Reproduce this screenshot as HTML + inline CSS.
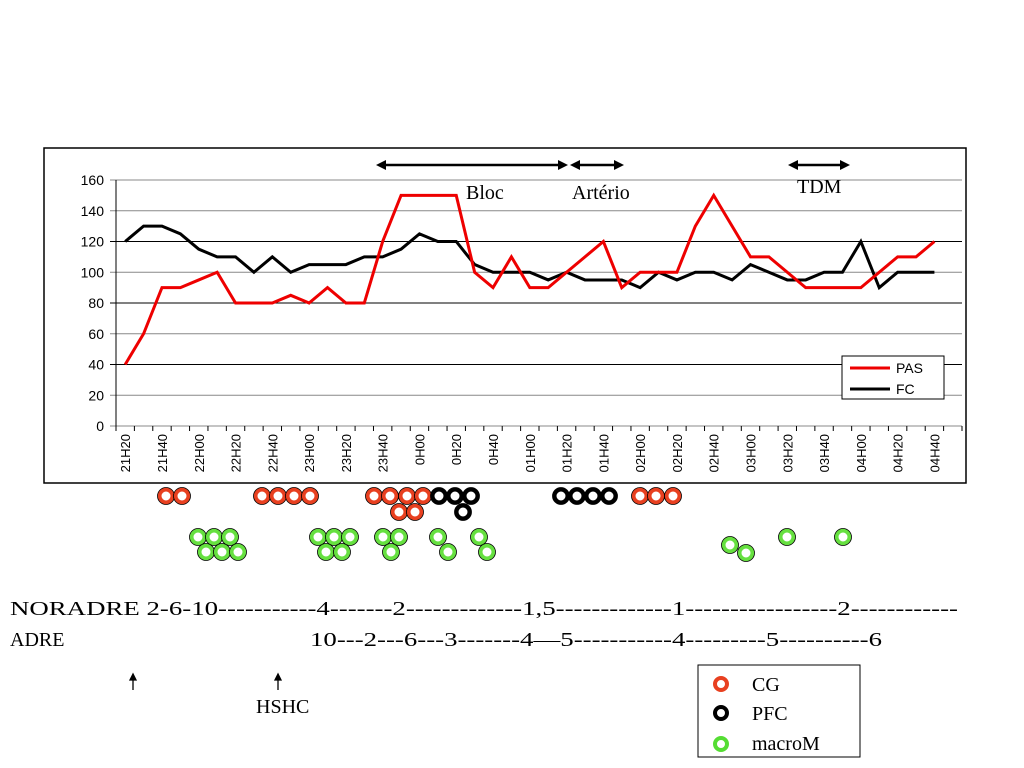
<!DOCTYPE html>
<html><head><meta charset="utf-8"><style>body{margin:0;background:#fff}svg{display:block}</style></head>
<body>
<svg id="c" width="1024" height="768" xmlns="http://www.w3.org/2000/svg" font-family="Liberation Sans, sans-serif">
<rect x="44" y="148" width="922" height="335" fill="#fff" stroke="#000" stroke-width="1.5"/>
<g id="grid"></g><g id="axes"></g><g id="lines"></g>
<g font-family="Liberation Serif, serif" font-size="20">
<line x1="382" y1="165" x2="562" y2="165" stroke="#000" stroke-width="2.5"/>
<polygon points="376,165 386,160 386,170" fill="#000"/><polygon points="568,165 558,160 558,170" fill="#000"/>
<line x1="576" y1="165" x2="618" y2="165" stroke="#000" stroke-width="2.5"/>
<polygon points="570,165 580,160 580,170" fill="#000"/><polygon points="624,165 614,160 614,170" fill="#000"/>
<line x1="794" y1="165" x2="844" y2="165" stroke="#000" stroke-width="2.5"/>
<polygon points="788,165 798,160 798,170" fill="#000"/><polygon points="850,165 840,160 840,170" fill="#000"/>
<text x="466" y="199">Bloc</text>
<text x="572" y="199">Artério</text>
<text x="797" y="193">TDM</text>
</g>
<g>
<rect x="842" y="356" width="102" height="43" fill="#fff" stroke="#000"/>
<line x1="850" y1="368" x2="890" y2="368" stroke="#e00" stroke-width="3"/>
<line x1="850" y1="389" x2="890" y2="389" stroke="#000" stroke-width="3"/>
<text x="896" y="373" font-size="14">PAS</text><text x="896" y="394" font-size="14">FC</text>
</g>
<g id="dots"></g>
<g font-family="Liberation Serif, serif" font-size="20">
<text x="10" y="615" textLength="948" lengthAdjust="spacingAndGlyphs">NORADRE 2-6-10-----------4-------2-------------1,5-------------1-----------------2------------</text>
<text x="10" y="646">ADRE</text>
<text x="310" y="646" textLength="572" lengthAdjust="spacingAndGlyphs">10---2---6---3-------4—5-----------4---------5----------6</text>
<text x="256" y="713">HSHC</text>
</g>
<g stroke="#000" stroke-width="1.3">
<line x1="133" y1="678" x2="133" y2="690"/><polygon points="133,674 130,680 136,680" fill="#000"/>
<line x1="278" y1="678" x2="278" y2="690"/><polygon points="278,674 275,680 281,680" fill="#000"/>
</g>
<g font-family="Liberation Serif, serif" font-size="20">
<rect x="698" y="665" width="162" height="92" fill="#fff" stroke="#000"/>
<circle cx="721" cy="684" r="6" fill="none" stroke="#e84020" stroke-width="4"/>
<circle cx="721" cy="713" r="6" fill="none" stroke="#000" stroke-width="4"/>
<circle cx="721" cy="744" r="6" fill="none" stroke="#55dd33" stroke-width="4"/>
<text x="752" y="691">CG</text><text x="752" y="720">PFC</text><text x="752" y="750">macroM</text>
</g>
</svg>
<script>
const categories=["21H20","","21H40","","22H00","","22H20","","22H40","","23H00","","23H20","","23H40","","0H00","","0H20","","0H40","","01H00","","01H20","","01H40","","02H00","","02H20","","02H40","","03H00","","03H20","","03H40","","04H00","","04H20","","04H40"];
const pasValues=[40,60,90,90,95,100,80,80,80,85,80,90,80,80,120,150,150,150,150,100,90,110,90,90,100,110,120,90,100,100,100,130,150,130,110,110,100,90,90,90,90,100,110,110,120];
const fcValues=[120,130,130,125,115,110,110,100,110,100,105,105,105,110,110,115,125,120,120,105,100,100,100,95,100,95,95,95,90,100,95,100,100,95,105,100,95,95,100,100,120,90,100,100,100];
const yTicks=[0,20,40,60,80,100,120,140,160];
const NS="http://www.w3.org/2000/svg";
const x0=116,x1=962,yBase=426,yTop=180,yMax=160;
const step=(x1-x0)/46;
const xs=i=>x0+step*(i+0.5);
const ys=v=>yBase-(v/yMax)*(yBase-yTop);
function mk(t,a,p){const e=document.createElementNS(NS,t);for(const k in a)e.setAttribute(k,a[k]);p.appendChild(e);return e;}
const grid=document.getElementById('grid'),axes=document.getElementById('axes'),lines=document.getElementById('lines');
yTicks.forEach(v=>{
 const g=mk('line',{x1:x0-6,x2:x1,y1:ys(v),y2:ys(v),stroke:v%40==0&&v>0&&v<160?'#000':'#888','stroke-width':1},grid);
 
 
 const t=mk('text',{x:x0-12,y:ys(v)+5,'text-anchor':'end','font-size':14},axes);
 
 
 t.textContent=v;
});
const ax=mk('line',{x1:x0,x2:x0,y1:yTop,y2:yBase,stroke:'#000'},axes);


for(let i=0;i<=46;i++){const tk=mk('line',{x1:x0+step*i,x2:x0+step*i,y1:yBase,y2:yBase+5,stroke:'#000'},axes);
 
 }
categories.forEach((c,i)=>{if(!c)return;
 const t=mk('text',{transform:`translate(${xs(i)+5},${yBase+8}) rotate(-90)`,'text-anchor':'end','font-size':13},axes);
 
 
 t.textContent=c;});
function series(vals,col,name){
 const p=mk('polyline',{points:vals.map((v,i)=>xs(i)+','+ys(v)).join(' '),fill:'none',stroke:col,'stroke-width':3,'stroke-linejoin':'miter'},lines);
 
 
}
series(fcValues,'#000','fc-line');
series(pasValues,'#e00','pas-line');
const cgDots=[[166,496],[182,496],[262,496],[278,496],[294,496],[310,496],[374,496],[390,496],[407,496],[423,496],[399,512],[415,512],[640,496],[656,496],[673,496]];
const pfcDots=[[439,496],[455,496],[471,496],[463,512],[561,496],[577,496],[593,496],[609,496]];
const macroDots=[[198,537],[214,537],[230,537],[206,552],[222,552],[238,552],[318,537],[334,537],[350,537],[326,552],[342,552],[383,537],[399,537],[391,552],[438,537],[448,552],[479,537],[487,552],[730,545],[746,553],[787,537],[843,537]];
const dots=document.getElementById('dots');
function drawDots(arr,fill,name){arr.forEach(d=>{
 const c=mk('circle',{cx:d[0],cy:d[1],r:6.5,fill:'#fff',stroke:fill,'stroke-width':4},dots);
 
 
 mk('circle',{cx:d[0],cy:d[1],r:8.5,fill:'none',stroke:'#000','stroke-width':0.8},dots);});}
drawDots(cgDots,'#e84020','cg-marker');
drawDots(pfcDots,'#000','pfc-marker');
drawDots(macroDots,'#66e040','macrom-marker');
</script>
</body></html>
